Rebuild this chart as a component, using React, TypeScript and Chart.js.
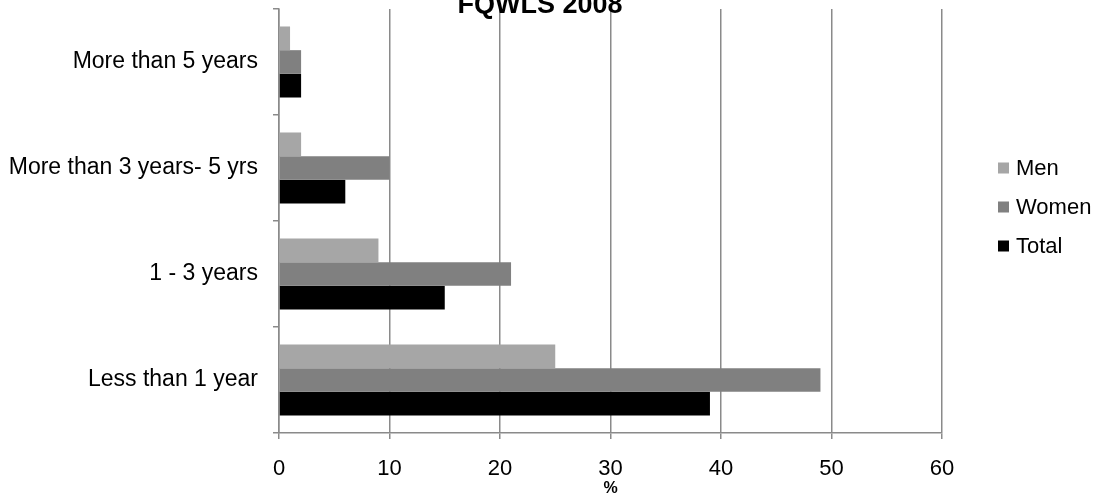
import { useEffect, useRef } from "react";
import { Chart, registerables } from "chart.js";

Chart.register(...registerables);

const categories = [
  "More than 5 years",
  "More than 3 years- 5 yrs",
  "1 - 3 years",
  "Less than 1 year",
];
const seriesNames = ["Men", "Women", "Total"];
const menValues = [1, 2, 9, 25];
const womenValues = [2, 10, 21, 49];
const totalValues = [2, 6, 15, 39];
const seriesColors = ["#a6a6a6", "#808080", "#000000"];
const xTicks = [0, 10, 20, 30, 40, 50, 60];
const chartTitle = "FQWLS 2008";
const xAxisTitle = "%";

const FONT = "'Liberation Sans', Arial, sans-serif";
const GRID = "#8a8a8a";

const overlayPlugin = {
  id: "overlay",
  afterDraw(chart: any) {
    const ctx = chart.ctx;
    ctx.save();
    ctx.fillStyle = "#000";
    ctx.font = `bold 27px ${FONT}`;
    ctx.textAlign = "center";
    ctx.textBaseline = "alphabetic";
    ctx.fillText(chartTitle, 540, 13);

    ctx.font = `22px ${FONT}`;
    ctx.textAlign = "left";
    ctx.textBaseline = "middle";
    chart.data.datasets.forEach((ds: any, i: number) => {
      const y = 168 + i * 39;
      ctx.fillStyle = ds.backgroundColor;
      ctx.fillRect(998, y - 5.5, 11, 11);
      ctx.fillStyle = "#000";
      ctx.fillText(ds.label, 1016, y + 1);
    });
    ctx.restore();
  },
};

export default function App() {
  const ref = useRef<HTMLCanvasElement>(null);

  useEffect(() => {
    if (!ref.current) return;
    const values = [menValues, womenValues, totalValues];
    const chart = new Chart(ref.current, {
      type: "bar",
      data: {
        labels: categories,
        datasets: seriesNames.map((name, i) => ({
          label: name,
          data: values[i],
          backgroundColor: seriesColors[i],
          borderWidth: 0,
          categoryPercentage: 0.67,
          barPercentage: 1,
        })),
      },
      options: {
        indexAxis: "y",
        responsive: false,
        animation: false,
        layout: { padding: { top: 9, right: 158, bottom: 0, left: 0 } },
        plugins: {
          legend: { display: false },
          title: { display: false },
          tooltip: { enabled: false },
        },
        scales: {
          y: {
            type: "category",
            grid: {
              offset: true,
              drawOnChartArea: false,
              drawTicks: true,
              tickLength: 6,
              color: GRID,
              lineWidth: 1.5,
            },
            border: { color: GRID, width: 1.5 },
            ticks: {
              color: "#000",
              font: { family: FONT, size: 23 },
              padding: 15,
            },
            afterFit: (s: any) => {
              s.width = 279;
              s.paddingTop = 0;
              s.paddingBottom = 0;
            },
          },
          x: {
            type: "linear",
            min: 0,
            max: 60,
            afterBuildTicks: (s: any) => {
              s.ticks = xTicks.map((v) => ({ value: v }));
            },
            grid: { color: GRID, tickLength: 6, lineWidth: 1.5 },
            border: { color: GRID, width: 1.5 },
            ticks: {
              color: "#000",
              font: { family: FONT, size: 22 },
              padding: 17,
              maxRotation: 0,
            },
            title: {
              display: true,
              text: xAxisTitle,
              color: "#000",
              font: { family: FONT, size: 16, weight: "bold" },
              padding: { top: 0, bottom: 6 },
            },
            afterFit: (s: any) => {
              s.height = 71;
            },
          },
        },
      },
      plugins: [overlayPlugin],
    });
    return () => chart.destroy();
  }, []);

  return (
    <div style={{ position: "fixed", left: 0, top: 0, width: 1100, height: 504, background: "#fff" }}>
      <canvas ref={ref} width={1100} height={504} style={{ display: "block" }} />
    </div>
  );
}
